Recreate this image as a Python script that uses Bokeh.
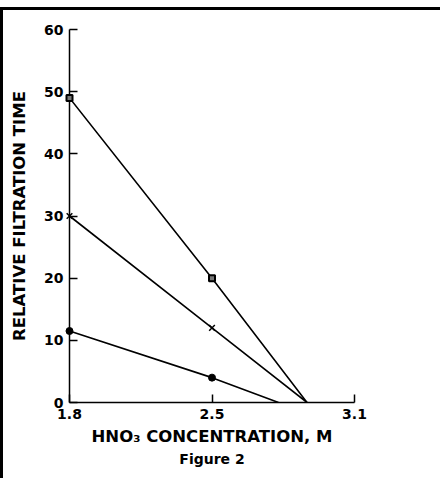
import numpy as np
from bokeh.plotting import figure
from bokeh.models import Range1d, FixedTicker, Title
from bokeh.embed import file_html
from bokeh.resources import INLINE

# Axis ticks (the original axis spaces 1.8, 2.5, 3.1 evenly)
x_ticks = [1.8, 2.5, 3.1]
x_tick_labels = ["1.8", "2.5", "3.1"]
y_ticks = [0, 10, 20, 30, 40, 50, 60]

# Series: measured points (first two) + extrapolated zero crossing
sq_conc = [1.8, 2.5, 2.9]
sq_time = [49, 20, 0]
x_conc = [1.8, 2.5, 2.9]
x_time = [30, 12, 0]
ci_conc = [1.8, 2.5, 2.78]
ci_time = [11.5, 4, 0]

tick_pos = list(range(len(x_ticks)))


def to_pos(c):
    return np.interp(c, x_ticks, tick_pos)


FONT = "DejaVu Sans"

p = figure(width=440, height=471,
           x_range=Range1d(0, 2), y_range=Range1d(0, 60),
           output_backend="svg", toolbar_location=None,
           min_border_left=66, min_border_right=89,
           min_border_top=19, min_border_bottom=79)
p.styles = {"border-top": "3px solid black", "border-left": "3px solid black",
            "margin-top": "7px"}
p.outline_line_color = None
p.grid.visible = False
p.background_fill_color = "white"
p.border_fill_color = "white"

for ax in (p.xaxis[0], p.yaxis[0]):
    ax.axis_line_width = 1.5
    ax.axis_line_color = "black"
    ax.major_tick_line_width = 1.5
    ax.major_tick_line_color = "black"
    ax.major_tick_in = 8
    ax.major_tick_out = 0
    ax.minor_tick_line_color = None
    ax.major_label_text_font = FONT
    ax.major_label_text_font_style = "bold"
    ax.major_label_text_font_size = "14px"
    ax.major_label_text_color = "black"
    ax.axis_label_text_font = FONT
    ax.axis_label_text_font_style = "bold"
    ax.axis_label_text_font_size = "16.5px"
    ax.axis_label_text_color = "black"

p.xaxis.ticker = FixedTicker(ticks=tick_pos)
p.xaxis.major_label_overrides = {i: l for i, l in zip(tick_pos, x_tick_labels)}
p.xaxis.major_label_standoff = 6
p.xaxis.axis_label = "HNO₃ CONCENTRATION, M"
p.xaxis.axis_label_standoff = 5

p.yaxis.ticker = FixedTicker(ticks=y_ticks)
p.yaxis.major_label_standoff = 6
p.yaxis.axis_label = "RELATIVE FILTRATION TIME"
p.yaxis.axis_label_standoff = 12

for cx, cy in ((sq_conc, sq_time), (x_conc, x_time), (ci_conc, ci_time)):
    p.line(to_pos(cx), cy, line_color="black", line_width=1.6)

p.scatter(to_pos(sq_conc[:2]), sq_time[:2], marker="square", size=6,
          line_color="black", line_width=2, fill_color="#777777", level="overlay")
p.scatter(to_pos(x_conc[:2]), x_time[:2], marker="x", size=8,
          line_color="black", line_width=1.5, level="overlay")
p.scatter(to_pos(ci_conc[:2]), ci_time[:2], marker="circle", size=7,
          line_color="black", fill_color="black", level="overlay")

p.add_layout(Title(text="Figure 2", align="center", offset=9, standoff=0,
                   text_font=FONT, text_font_style="bold",
                   text_font_size="14px", text_color="black"), "below")

open("out.html", "w").write(file_html(p, INLINE))
